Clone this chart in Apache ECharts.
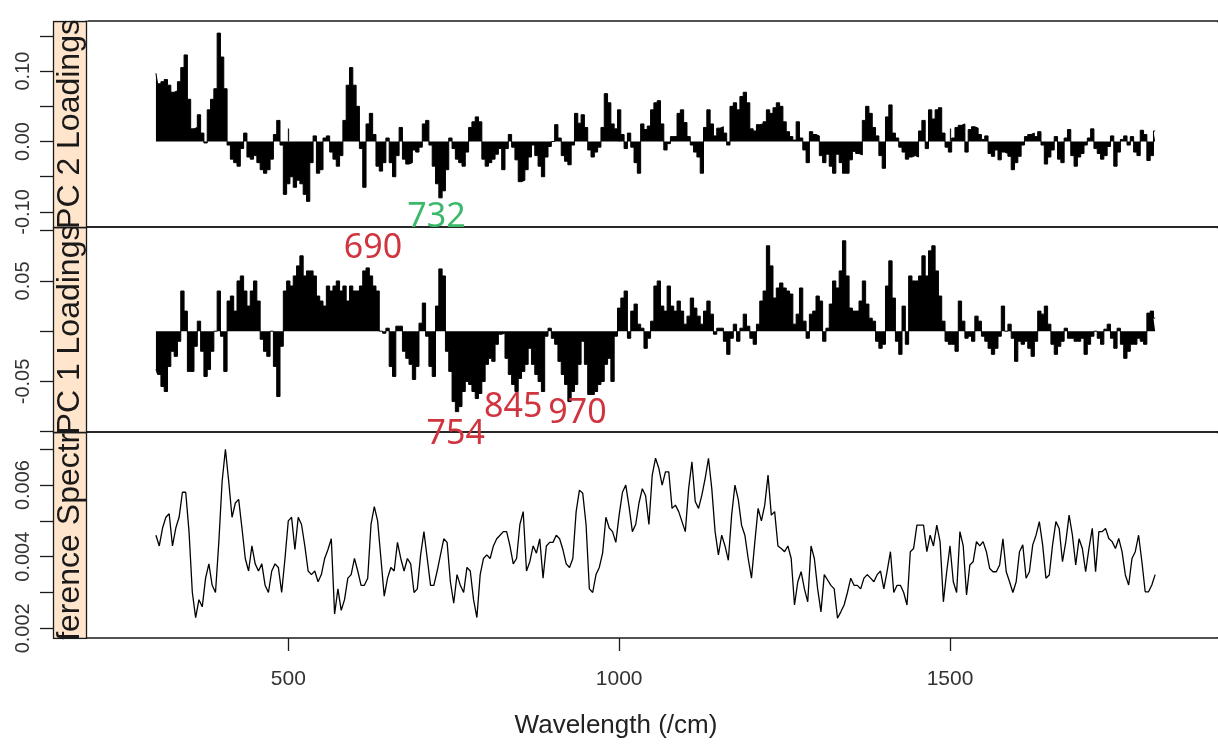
<!DOCTYPE html>
<html><head><meta charset="utf-8">
<script src="https://cdn.jsdelivr.net/npm/echarts@6/dist/echarts.min.js"></script>
<style>html,body{margin:0;padding:0;background:#fff}#c{width:1218px;height:751px}</style>
</head><body><div id="c"></div>
<script>
const wavelengths = [
300,305,310,315,320,325,330,335,340,345,350,355,360,365,370,375,380,385,390,395,
400,405,410,415,420,425,430,435,440,445,450,455,460,465,470,475,480,485,490,495,
500,505,510,515,520,525,530,535,540,545,550,555,560,565,570,575,580,585,590,595,
600,605,610,615,620,625,630,635,640,645,650,655,660,665,670,675,680,685,690,695,
700,705,710,715,720,725,730,735,740,745,750,755,760,765,770,775,780,785,790,795,
800,805,810,815,820,825,830,835,840,845,850,855,860,865,870,875,880,885,890,895,
900,905,910,915,920,925,930,935,940,945,950,955,960,965,970,975,980,985,990,995,
1000,1005,1010,1015,1020,1025,1030,1035,1040,1045,1050,1055,1060,1065,1070,1075,1080,1085,1090,1095,
1100,1105,1110,1115,1120,1125,1130,1135,1140,1145,1150,1155,1160,1165,1170,1175,1180,1185,1190,1195,
1200,1205,1210,1215,1220,1225,1230,1235,1240,1245,1250,1255,1260,1265,1270,1275,1280,1285,1290,1295,
1300,1305,1310,1315,1320,1325,1330,1335,1340,1345,1350,1355,1360,1365,1370,1375,1380,1385,1390,1395,
1400,1405,1410,1415,1420,1425,1430,1435,1440,1445,1450,1455,1460,1465,1470,1475,1480,1485,1490,1495,
1500,1505,1510,1515,1520,1525,1530,1535,1540,1545,1550,1555,1560,1565,1570,1575,1580,1585,1590,1595,
1600,1605,1610,1615,1620,1625,1630,1635,1640,1645,1650,1655,1660,1665,1670,1675,1680,1685,1690,1695,
1700,1705,1710,1715,1720,1725,1730,1735,1740,1745,1750,1755,1760,1765,1770,1775,1780,1785,1790,1795,
1800,1805,1810];

const pc2Loadings = [
0.097,0.082,0.085,0.088,0.080,0.070,0.072,0.085,0.105,0.123,0.060,0.018,0.020,0.038,0.012,-0.002,0.045,0.060,0.075,0.154,
0.120,0.075,-0.005,-0.025,-0.030,-0.035,-0.010,0.012,-0.022,-0.025,-0.020,-0.030,-0.040,-0.045,-0.040,-0.025,0.010,0.030,-0.005,-0.075,
-0.060,-0.050,-0.065,-0.055,-0.060,-0.075,-0.085,-0.030,0.008,-0.045,-0.040,0.005,0.008,-0.015,-0.025,-0.035,-0.020,0.030,0.080,0.105,
0.080,0.050,-0.010,-0.065,0.025,0.040,0.010,-0.035,-0.042,-0.030,0.005,-0.030,-0.050,-0.020,0.020,-0.025,-0.032,-0.030,-0.012,-0.015,
-0.008,0.025,0.030,-0.005,-0.035,-0.060,-0.080,-0.070,-0.040,0.005,-0.010,-0.025,-0.030,-0.035,-0.015,0.020,0.028,0.035,0.028,-0.025,
-0.035,-0.030,-0.025,-0.018,-0.010,-0.040,-0.010,0.010,-0.008,-0.026,-0.057,-0.055,-0.040,-0.022,-0.005,-0.020,-0.035,-0.050,-0.022,-0.007,
0.000,0.024,0.005,-0.020,-0.028,-0.033,-0.005,0.040,0.026,0.038,0.020,-0.012,-0.022,-0.015,-0.008,0.020,0.068,0.055,0.025,0.018,
0.045,0.010,-0.010,0.012,-0.008,-0.030,-0.045,0.025,0.017,0.022,0.045,0.055,0.058,0.025,-0.012,-0.003,0.007,0.007,0.040,0.045,
0.027,0.007,-0.005,-0.015,-0.022,-0.045,0.020,0.045,0.025,0.008,0.019,0.021,0.012,-0.005,0.050,0.055,0.045,0.064,0.070,0.055,
0.018,0.015,0.024,0.025,0.028,0.045,0.040,0.048,0.055,0.050,0.028,0.014,0.007,0.002,0.028,0.005,-0.012,-0.030,0.014,0.010,
0.008,-0.020,-0.030,-0.018,-0.035,-0.045,-0.018,-0.030,-0.045,-0.045,-0.026,-0.014,-0.017,-0.019,0.030,0.050,0.040,0.020,0.008,-0.020,
-0.038,0.035,0.052,0.012,0.005,-0.008,-0.015,-0.025,-0.022,-0.020,-0.022,0.015,0.030,-0.010,0.045,0.032,0.045,0.048,0.012,-0.008,
-0.015,0.005,0.020,0.023,0.025,-0.015,0.017,0.021,0.019,0.010,0.003,0.008,-0.017,-0.021,-0.012,-0.026,-0.015,-0.017,-0.021,-0.040,
-0.030,-0.021,-0.005,0.007,0.010,0.012,0.007,0.014,-0.005,-0.032,-0.022,-0.012,0.007,-0.025,-0.030,0.005,0.017,-0.020,-0.035,-0.022,
-0.017,-0.005,0.005,0.018,-0.010,-0.017,-0.025,-0.020,-0.007,0.008,-0.035,-0.015,0.003,0.008,-0.005,0.007,-0.015,-0.020,0.016,0.010,
-0.027,-0.020,0.015];

const pc1Loadings = [
-0.038,-0.043,-0.055,-0.060,-0.035,-0.020,-0.025,-0.010,0.040,0.020,-0.040,-0.040,-0.015,0.010,-0.020,-0.045,-0.038,-0.020,0.000,0.040,
-0.005,-0.040,0.030,0.035,0.020,0.050,0.055,0.040,0.025,0.040,0.050,0.030,-0.008,-0.020,-0.025,0.000,-0.035,-0.065,-0.015,0.040,
0.050,0.045,0.055,0.065,0.075,0.055,0.060,0.060,0.055,0.035,0.030,0.025,0.045,0.040,0.045,0.050,0.040,0.045,0.030,0.045,
0.040,0.040,0.045,0.060,0.063,0.055,0.045,0.040,0.000,-0.002,0.003,-0.035,-0.045,0.005,0.005,-0.020,-0.027,-0.033,-0.048,-0.035,
0.008,0.028,-0.005,-0.035,-0.045,0.025,0.062,0.055,-0.020,-0.040,-0.070,-0.080,-0.075,-0.060,-0.050,-0.053,-0.060,-0.067,-0.062,-0.050,
-0.033,-0.027,-0.030,-0.013,-0.003,-0.002,-0.027,-0.043,-0.053,-0.060,-0.047,-0.040,-0.033,-0.017,-0.033,-0.043,-0.050,-0.060,-0.005,0.003,
-0.007,-0.013,-0.030,-0.043,-0.053,-0.070,-0.060,-0.053,-0.033,-0.010,-0.033,-0.063,-0.063,-0.060,-0.053,-0.050,-0.033,-0.027,-0.050,-0.005,
0.023,0.033,0.040,-0.007,0.020,0.027,0.007,0.003,-0.017,-0.007,0.010,0.045,0.050,0.025,0.020,0.045,0.025,0.020,0.030,0.020,
0.007,0.015,0.033,0.023,0.015,0.007,0.020,0.030,0.017,-0.003,0.003,0.003,-0.010,-0.023,-0.007,0.007,-0.010,0.003,0.017,0.005,
-0.007,-0.013,0.007,0.030,0.040,0.085,0.065,0.033,0.043,0.048,0.043,0.040,0.037,0.007,0.017,0.043,0.010,-0.007,0.017,0.020,
0.035,0.030,-0.010,0.003,0.027,0.050,0.043,0.060,0.090,0.055,0.023,0.020,0.020,0.030,0.050,0.027,0.013,0.010,-0.010,-0.017,
-0.013,0.045,0.070,0.033,-0.010,-0.023,0.025,-0.013,0.055,0.050,0.050,0.055,0.075,0.055,0.080,0.085,0.060,0.035,0.010,-0.010,
-0.013,-0.013,-0.020,0.030,0.010,-0.007,-0.005,-0.010,0.015,0.010,-0.005,-0.010,-0.017,-0.023,-0.017,-0.005,0.025,0.000,0.007,-0.007,
-0.030,-0.010,-0.013,-0.010,-0.017,-0.025,-0.010,0.020,0.017,0.025,0.007,-0.013,-0.023,-0.015,-0.010,0.003,-0.007,-0.007,-0.010,-0.010,
-0.007,-0.023,-0.013,-0.005,0.000,-0.007,-0.013,0.002,0.007,-0.007,-0.017,0.003,-0.013,-0.027,-0.020,-0.013,-0.013,-0.007,-0.010,-0.013,
0.018,0.020,0.013];

const referenceSpectrum = [
0.0046,0.0043,0.0048,0.0051,0.0052,0.0043,0.0048,0.0051,0.0058,0.0058,0.0047,0.0030,0.0023,0.0028,0.0026,0.0034,0.0038,0.0032,0.0030,0.0044,
0.0061,0.0070,0.0061,0.0051,0.0055,0.0056,0.0048,0.00395,0.0036,0.0043,0.0038,0.0036,0.0038,0.0032,0.0030,0.0036,0.0038,0.0037,0.0030,0.00395,
0.0050,0.0051,0.0042,0.0051,0.0049,0.0043,0.0036,0.0035,0.0036,0.0033,0.0035,0.00395,0.0042,0.0045,0.0024,0.0031,0.0025,0.0028,0.0034,0.0035,
0.00395,0.0036,0.0032,0.0032,0.0034,0.0049,0.0054,0.0050,0.00395,0.0029,0.0034,0.0037,0.0036,0.0044,0.00395,0.0036,0.00395,0.0038,0.0030,0.0031,
0.00405,0.0047,0.00395,0.0032,0.0032,0.0036,0.00405,0.0045,0.0044,0.0033,0.0027,0.0035,0.0032,0.0030,0.0037,0.0036,0.0028,0.0023,0.0035,0.00395,
0.00405,0.00395,0.0043,0.0045,0.0046,0.0047,0.0047,0.0043,0.0038,0.00395,0.0049,0.00526,0.0036,0.00386,0.0043,0.0041,0.0045,0.0034,0.0043,0.0044,
0.0044,0.0046,0.0045,0.0042,0.0038,0.0037,0.00395,0.00526,0.00586,0.00577,0.0049,0.0031,0.0030,0.0035,0.0037,0.0041,0.0051,0.0048,0.0047,0.0044,
0.00516,0.0058,0.0060,0.0054,0.0047,0.0049,0.0055,0.0059,0.0057,0.0049,0.00628,0.00675,0.00647,0.0060,0.00637,0.00637,0.00535,0.00544,0.00526,0.00498,
0.0047,0.0059,0.00665,0.00554,0.00535,0.00572,0.00619,0.00675,0.0059,0.0047,0.00405,0.0046,0.0043,0.0039,0.00516,0.0060,0.0056,0.00488,0.0046,0.00395,
0.0034,0.0044,0.00535,0.0050,0.00544,0.00628,0.00516,0.00526,0.0043,0.00423,0.00414,0.0043,0.00395,0.00265,0.0033,0.00358,0.0031,0.00274,0.0043,0.00395,
0.0031,0.00246,0.0035,0.00335,0.0032,0.0031,0.00228,0.00246,0.00265,0.0030,0.0034,0.0032,0.0032,0.0031,0.0034,0.0035,0.0034,0.0033,0.0035,0.0036,
0.0031,0.0036,0.00414,0.0030,0.0032,0.0032,0.0030,0.00265,0.00414,0.00423,0.00488,0.00488,0.00488,0.00414,0.0046,0.0043,0.00488,0.00442,0.00274,0.00358,
0.0043,0.0033,0.0030,0.0047,0.0043,0.00293,0.00377,0.00386,0.00442,0.0043,0.00442,0.00414,0.00367,0.00358,0.00358,0.00377,0.0045,0.00358,0.0033,0.0030,
0.0033,0.00414,0.00433,0.0034,0.00358,0.00433,0.0046,0.00498,0.00433,0.0034,0.00349,0.00433,0.00498,0.00479,0.00386,0.00442,0.00516,0.0046,0.00377,0.0045,
0.00423,0.00358,0.00423,0.00479,0.00358,0.0047,0.0047,0.00479,0.00451,0.00442,0.00423,0.00451,0.00414,0.00349,0.00321,0.00395,0.00414,0.0046,0.00386,0.00302,
0.00302,0.00321,0.0035];

const panelTitles = ['PC 2 Loadings', 'PC 1 Loadings', 'Reference Spectrum'];
const xTickValues = [500, 1000, 1500];
const pc2TickValues = [-0.10, -0.05, 0.00, 0.05, 0.10, 0.15];
const pc2LabelValues = [-0.10, 0.00, 0.10];
const pc1TickValues = [-0.10, -0.05, 0.00, 0.05, 0.10];
const pc1LabelValues = [-0.05, 0.05];
const refTickValues = [0.002, 0.003, 0.004, 0.005, 0.006, 0.007];
const refLabelValues = [0.002, 0.004, 0.006];
const xTitle = 'Wavelength (/cm)';

// annotation labels: [text, wavelength, value]
const pc2Notes = [['732', 724, -0.1072]];
const pc1Notes = [['690', 628, 0.082], ['845', 840, -0.076], ['970', 937, -0.0815]];
const refNotes = [['754', 753, 0.00742]];

const FONT = 'Liberation Sans, Arial, sans-serif';
const RED = '#d0343f';
const GREEN = '#3cb86a';
const LINE = '#1a1a1a';

const xRange = [194.3, 1905.0];
const yRanges = [[-0.1214, 0.1712], [-0.1003, 0.1037], [0.001729, 0.007483]];
const grids = [
  {left: 86, top: 21, right: 0, height: 206},
  {left: 86, top: 227, right: 0, height: 205},
  {left: 86, top: 432, right: 0, height: 206}
];

function pairs(vals) { return wavelengths.map((w, i) => [w, vals[i]]); }
function notePoints(notes) { return notes.map(n => ({name: n[0], coord: [n[1], n[2]]})); }

const chart = echarts.init(document.getElementById('c'), null, {renderer: 'canvas'});

const yAxisBase = (i, ticks, labels, dec) => ({
  gridIndex: i, type: 'value', min: yRanges[i][0], max: yRanges[i][1],
  offset: 33, position: 'left',
  axisLine: {show: false},
  splitLine: {show: false},
  axisTick: {show: true, length: 13, customValues: ticks, lineStyle: {color: LINE, width: 1.3}},
  axisLabel: {show: true, customValues: labels, rotate: 90, margin: 20, fontSize: 20,
    fontFamily: FONT, color: '#333', formatter: v => Number(v).toFixed(dec)}
});

const stripEls = [];
const order = [2, 1, 0];
order.forEach((i, k) => {
  const g = grids[i];
  stripEls.push({type: 'rect', z: 10 + 2 * k, silent: true,
    shape: {x: 53.5, y: g.top + 0.5, width: 33, height: g.height},
    style: {fill: '#ffe5cc', stroke: LINE, lineWidth: 1.3}});
  stripEls.push({type: 'text', z: 11 + 2 * k, silent: true,
    x: 70, y: g.top + g.height / 2, rotation: Math.PI / 2,
    style: {text: panelTitles[i], fontSize: 32, fontFamily: FONT, fill: '#1a1a1a',
      align: 'center', verticalAlign: 'middle'}});
});
stripEls.push({type: 'rect', z: 20, silent: true, shape: {x: 52, y: 639.3, width: 36, height: 70}, style: {fill: '#fff'}});
stripEls.push({type: 'rect', z: 20, silent: true, shape: {x: 52, y: 0, width: 36, height: 20.5}, style: {fill: '#fff'}});
grids.forEach(g => {
  stripEls.push({type: 'rect', z: 20, silent: true, shape: {x: 1215.5, y: g.top + 1.5, width: 4, height: g.height - 2.5}, style: {fill: '#fff'}});
});
stripEls.push({type: 'text', z: 20, silent: true, x: 616, y: 726,
  style: {text: xTitle, fontSize: 26, fontFamily: FONT, fill: '#222', align: 'center', verticalAlign: 'middle'}});

const option = {
  animation: false,
  backgroundColor: '#fff',
  grid: grids.map(g => Object.assign({show: true, borderColor: LINE, borderWidth: 1.3, backgroundColor: 'transparent'}, g)),
  xAxis: [
    {gridIndex: 0, type: 'value', min: xRange[0], max: xRange[1], position: 'top',
      axisLine: {show: false}, splitLine: {show: false},
      axisTick: {show: true, length: 13, customValues: xTickValues, lineStyle: {color: LINE, width: 1.3}},
      axisLabel: {show: false}},
    {gridIndex: 1, type: 'value', min: xRange[0], max: xRange[1],
      axisLine: {show: false}, splitLine: {show: false}, axisTick: {show: false}, axisLabel: {show: false}},
    {gridIndex: 2, type: 'value', min: xRange[0], max: xRange[1], position: 'bottom',
      axisLine: {show: false}, splitLine: {show: false},
      axisTick: {show: true, length: 13, customValues: xTickValues, lineStyle: {color: LINE, width: 1.3}},
      axisLabel: {show: true, customValues: xTickValues, margin: 31, fontSize: 21, fontFamily: FONT, color: '#333',
        formatter: v => String(v)}}
  ],
  yAxis: [
    yAxisBase(0, pc2TickValues, pc2LabelValues, 2),
    yAxisBase(1, pc1TickValues, pc1LabelValues, 2),
    yAxisBase(2, refTickValues, refLabelValues, 3)
  ],
  graphic: {elements: stripEls},
  series: [
    {name: panelTitles[0], type: 'line', xAxisIndex: 0, yAxisIndex: 0, data: pairs(pc2Loadings),
      step: 'middle', symbol: 'none', lineStyle: {color: '#000', width: 1}, areaStyle: {color: '#000', opacity: 1, origin: 0},
      markPoint: {symbol: 'rect', symbolSize: 1, itemStyle: {color: 'rgba(0,0,0,0)'}, silent: true,
        label: {show: true, position: 'inside', formatter: p => p.name, fontSize: 34, fontFamily: 'Noto Sans, sans-serif', color: GREEN},
        data: notePoints(pc2Notes)}},
    {name: panelTitles[1], type: 'line', xAxisIndex: 1, yAxisIndex: 1, data: pairs(pc1Loadings),
      step: 'middle', symbol: 'none', lineStyle: {color: '#000', width: 1}, areaStyle: {color: '#000', opacity: 1, origin: 0},
      markPoint: {symbol: 'rect', symbolSize: 1, itemStyle: {color: 'rgba(0,0,0,0)'}, silent: true,
        label: {show: true, position: 'inside', formatter: p => p.name, fontSize: 34, fontFamily: 'Noto Sans, sans-serif', color: RED},
        data: notePoints(pc1Notes)}},
    {name: panelTitles[2], type: 'line', xAxisIndex: 2, yAxisIndex: 2, data: pairs(referenceSpectrum),
      symbol: 'none', lineStyle: {color: '#000', width: 1.3},
      markPoint: {symbol: 'rect', symbolSize: 1, itemStyle: {color: 'rgba(0,0,0,0)'}, silent: true,
        label: {show: true, position: 'inside', formatter: p => p.name, fontSize: 34, fontFamily: 'Noto Sans, sans-serif', color: RED},
        data: notePoints(refNotes)}}
  ]
};
chart.setOption(option);
</script>
</body></html>
